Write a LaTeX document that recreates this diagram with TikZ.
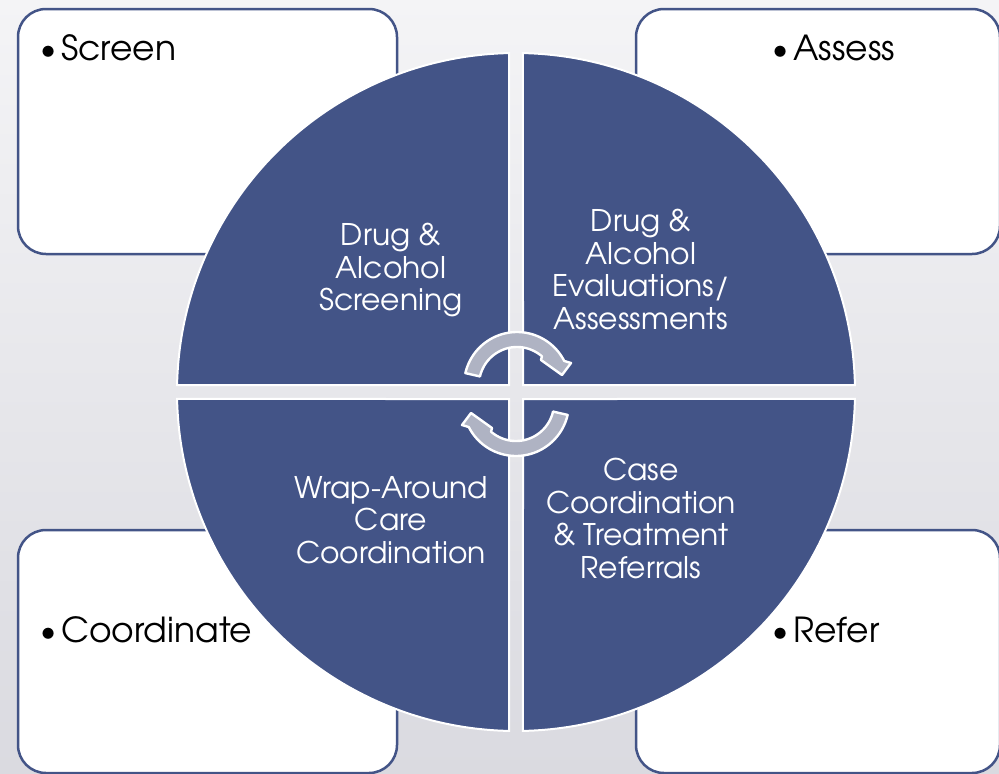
\documentclass[tikz,border=0pt]{standalone}
\usepackage{fontspec}
\setmainfont{TeX Gyre Adventor}
\definecolor{qblue}{HTML}{435487}
\definecolor{bgtop}{HTML}{F4F4F6}
\definecolor{bgbot}{HTML}{DADAE0}
\definecolor{arrowg}{HTML}{AFB3C3}
\newcommand{\mybul}{\raisebox{1pt}{\fontsize{31}{31}\selectfont\textbullet}\hspace{5pt}}
\begin{document}
\begin{tikzpicture}[x=1pt,y=-1pt,
  box/.style={draw=qblue, line width=2.5pt, fill=white, rounded corners=28pt},
  quad/.style={fill=qblue, draw=white, line width=2pt},
  arr/.style={fill=arrowg, draw=white, line width=2.4pt, line join=round},
  qtext/.style={text=white, font=\fontsize{29.8}{32.5}\selectfont, align=center, inner sep=0},
  lbl/.style={text=black, font=\fontsize{34.5}{37}\selectfont, inner sep=0, anchor=base west}]
\useasboundingbox (0,0) rectangle (999,774);
\shade[top color=bgtop, bottom color=bgbot] (0,0) rectangle (999,774);
% corner boxes
\draw[box] (18,9) rectangle (397,254);
\draw[box] (636,9) rectangle (1000,254);
\draw[box] (18,530) rectangle (397,773);
\draw[box] (636,530) rectangle (1000,773);
\node[lbl] (screen) at (40,60) {\mybul Screen};
\node[lbl] (assess) at (772,60) {\mybul Assess};
\node[lbl] (coord) at (40,642) {\mybul Coordinate};
\node[lbl] (refer) at (772,642) {\mybul Refer};
% quadrants
\def\R{339}
\draw[quad] (509,385) -- plot[domain=268.82:181.18, samples=90] ({516+\R*cos(\x)},{392+\R*sin(\x)}) -- cycle;
\draw[quad] (523,385) -- plot[domain=271.18:358.82, samples=90] ({516+\R*cos(\x)},{392+\R*sin(\x)}) -- cycle;
\draw[quad] (523,399) -- plot[domain=1.18:88.82, samples=90] ({516+\R*cos(\x)},{392+\R*sin(\x)}) -- cycle;
\draw[quad] (509,399) -- plot[domain=91.18:178.82, samples=90] ({516+\R*cos(\x)},{392+\R*sin(\x)}) -- cycle;
% circular arrows (the lower one is the upper one turned half round)
\def\cyclearrow{%
  \draw[arr] plot[domain=193:333, samples=40] ({517+53*cos(\x)},{385+53*sin(\x)})
    -- (571,363) -- (562,375) -- (541,360)
    -- plot[domain=311:193, samples=40] ({517+38*cos(\x)},{385+38*sin(\x)}) -- cycle;}
\cyclearrow
\begin{scope}[rotate around={180:(516.5,394)}]
\cyclearrow
\end{scope}
% quadrant texts
\node[qtext] (q1) at (391,270) {Drug \&\\Alcohol\\Screening};
\node[qtext] (q2) at (641,269.5) {Drug \&\\Alcohol\\Evaluations/\\Assessments};
\node[qtext] (q3) at (391,520) {Wrap-Around\\Care\\Coordination};
\node[qtext] (q4) at (641,518.5) {Case\\Coordination\\\& Treatment\\Referrals};
\end{tikzpicture}
\end{document}
